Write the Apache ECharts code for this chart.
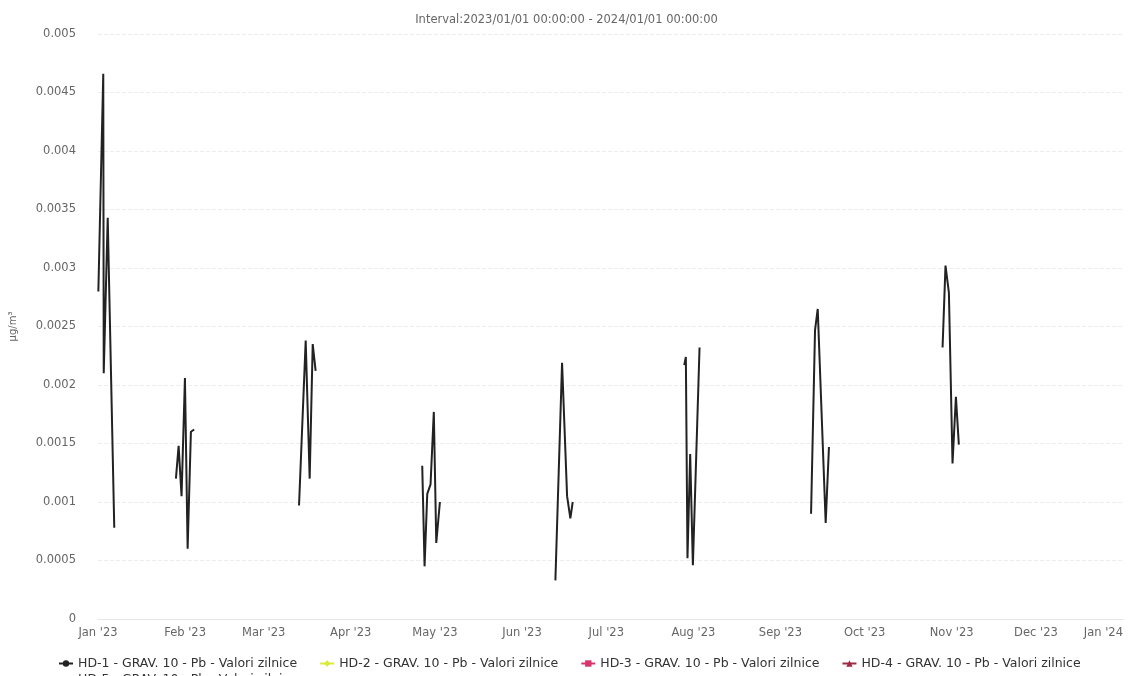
<!DOCTYPE html>
<html>
<head>
<meta charset="utf-8">
<script src="https://cdn.jsdelivr.net/npm/echarts@6/dist/echarts.min.js"></script>
<style>
html,body{margin:0;padding:0;background:#fff;}
#chart{width:1133px;height:676px;}
</style>
</head>
<body>
<div id="chart"></div>
<script>
// ---- data ----
var titleText = 'Interval:2023/01/01 00:00:00 - 2024/01/01 00:00:00';
var seriesNames = [
  'HD-1 - GRAV. 10 - Pb - Valori zilnice',
  'HD-2 - GRAV. 10 - Pb - Valori zilnice',
  'HD-3 - GRAV. 10 - Pb - Valori zilnice',
  'HD-4 - GRAV. 10 - Pb - Valori zilnice',
  'HD-5 - GRAV. 10 - Pb - Valori zilnice'
];
var monthLabels = ['Jan','Feb','Mar','Apr','May','Jun','Jul','Aug','Sep','Oct','Nov','Dec'];
// HD-1 measurements (null = gap between measurement campaigns)
var hd1Times = [
  '2023-01-01 03:00','2023-01-02 21:00','2023-01-03 01:00','2023-01-04 11:00','2023-01-06 19:00',
  '2023-01-15 00:00',
  '2023-01-28 18:00','2023-01-29 17:00','2023-01-30 18:00','2023-01-31 23:00','2023-02-01 22:00','2023-02-03 02:00','2023-02-04 06:00',
  '2023-02-20 00:00',
  '2023-03-13 14:00','2023-03-15 23:00','2023-03-17 09:00','2023-03-18 11:00','2023-03-19 12:00',
  '2023-04-10 00:00',
  '2023-04-26 11:00','2023-04-27 07:00','2023-04-28 06:00','2023-04-29 10:00','2023-04-30 14:00','2023-05-01 11:00','2023-05-02 18:00',
  '2023-05-20 00:00',
  '2023-06-12 21:00','2023-06-15 06:00','2023-06-17 01:00','2023-06-18 05:00','2023-06-19 01:00',
  '2023-07-10 00:00',
  '2023-07-28 18:00','2023-07-29 08:00','2023-07-29 22:00','2023-07-30 21:00','2023-07-31 20:00','2023-08-03 05:00',
  '2023-08-20 00:00',
  '2023-09-11 22:00','2023-09-13 08:00','2023-09-14 07:00','2023-09-17 03:00','2023-09-18 07:00',
  '2023-10-10 00:00',
  '2023-10-28 18:00','2023-10-29 19:00','2023-10-31 00:00','2023-10-31 17:00','2023-11-01 07:00','2023-11-02 12:00','2023-11-03 13:00'
];
var hd1Values = [
  0.0028, 0.00466, 0.0021, 0.00343, 0.00078,
  null,
  0.0012, 0.00148, 0.00105, 0.00206, 0.0006, 0.0016, 0.00162,
  null,
  0.00097, 0.00238, 0.0012, 0.00235, 0.00212,
  null,
  0.00131, 0.00045, 0.00107, 0.00115, 0.00177, 0.00065, 0.001,
  null,
  0.00033, 0.00219, 0.00105, 0.00086, 0.001,
  null,
  0.00217, 0.00224, 0.00052, 0.00141, 0.00046, 0.00232,
  null,
  0.0009, 0.00247, 0.00265, 0.00082, 0.00147,
  null,
  0.00232, 0.00302, 0.00279, 0.0028, 0.00133, 0.0019, 0.00149
];
var yTicks = [0,0.0005,0.001,0.0015,0.002,0.0025,0.003,0.0035,0.004,0.0045,0.005];

var seriesColors = ['#222222','#d9ea3c','#d9346a','#9b2c44','#2f6c96'];
var seriesSymbols = ['circle','diamond','rect','triangle','diamond'];

var hd1Data = hd1Times.map(function(t,i){ return [t, hd1Values[i] === null ? '-' : hd1Values[i]]; });

var series = seriesNames.map(function(n,i){
  return {
    name: n,
    type: 'line',
    data: i === 0 ? hd1Data : [],
    showSymbol: false,
    symbol: seriesSymbols[i],
    symbolSize: 7,
    connectNulls: false,
    color: seriesColors[i],
    lineStyle: {width: 2, color: seriesColors[i]},
    itemStyle: {color: seriesColors[i]}
  };
});

var FONT = 'DejaVu Sans, Liberation Sans, Arial, sans-serif';
var chart = echarts.init(document.getElementById('chart'));
var legendText = {fontFamily: FONT, fontSize: 12.5, color: '#333'};
chart.setOption({
  animation: false,
  backgroundColor: '#fff',
  title: {
    text: titleText,
    left: 'center',
    top: 9,
    textStyle: {fontFamily: FONT, fontSize: 11.5, fontWeight: 'normal', color: '#666'}
  },
  grid: {left: 97, right: 10, top: 34, bottom: 57},
  legend: [
    {
      data: seriesNames.slice(0,4),
      left: 53, top: 652,
      itemWidth: 14, itemHeight: 8, itemGap: 22,
      textStyle: legendText
    },
    {
      data: seriesNames.slice(4),
      left: 53, top: 668,
      itemWidth: 14, itemHeight: 8,
      textStyle: legendText
    }
  ],
  xAxis: {
    type: 'time',
    min: '2023-01-01 00:00',
    max: '2024-01-01 00:00',
    splitNumber: 12,
    minInterval: 28*86400000,
    maxInterval: 31*86400000,
    axisLine: {show: true, lineStyle: {color: '#e6e6e6'}},
    axisTick: {show: false},
    splitLine: {show: false},
    axisLabel: {
      margin: 8,
      color: '#666',
      fontFamily: FONT,
      fontSize: 11.5,
      showMinLabel: true,
      showMaxLabel: true,
      alignMaxLabel: 'right',
      formatter: function(v){
        var d = new Date(v);
        return monthLabels[d.getMonth()] + " '" + String(d.getFullYear()).slice(2);
      }
    }
  },
  yAxis: {
    type: 'value',
    min: yTicks[0],
    max: yTicks[yTicks.length-1],
    interval: yTicks[1]-yTicks[0],
    name: 'µg/m³',
    nameLocation: 'middle',
    nameGap: 80,
    nameRotate: 90,
    nameTextStyle: {fontFamily: FONT, fontSize: 10, color: '#666'},
    axisLine: {show: false},
    axisTick: {show: false},
    axisLabel: {
      margin: 22,
      color: '#666',
      fontFamily: FONT,
      fontSize: 11.5,
      formatter: function(v){ return String(+v.toFixed(4)); }
    },
    splitLine: {show: true, lineStyle: {color: '#ededed', type: 'dashed'}}
  },
  series: series
});
</script>
</body>
</html>
